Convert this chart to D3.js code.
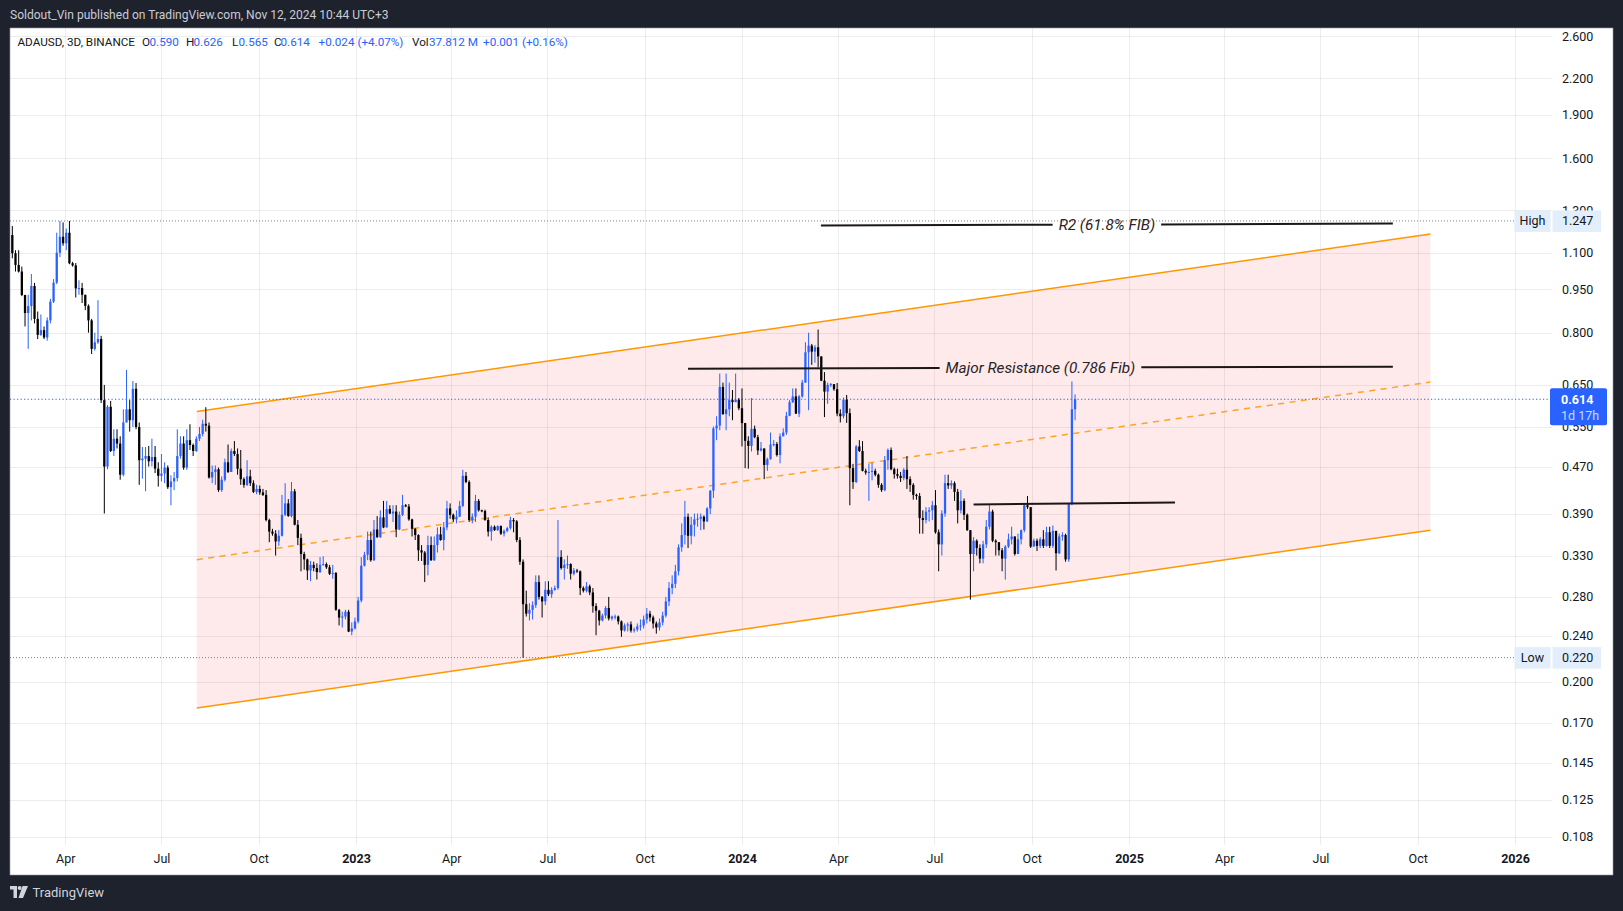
<!DOCTYPE html>
<html><head><meta charset="utf-8">
<script src="https://cdn.jsdelivr.net/npm/d3@7"></script>
<style>
html,body{margin:0;padding:0;background:#1e222d;overflow:hidden}
svg{display:block}
</style></head><body>
<svg id="c" width="1623" height="911"></svg>
<script>
// ---------------- DATA ----------------
const firstCandle = "2022-02-10";   // open time of the first 3D candle
const firstOpen = 1.179;
const closes = [
1.097,1.047,1.02,0.929,0.865,0.889,0.963,0.845,0.793,0.808,0.785,0.84,
0.905,0.976,1.099,1.171,1.141,1.19,1.054,1.045,0.954,0.955,0.93,0.89,
0.84,0.75,0.77,0.78,0.612,0.47,0.596,0.50,0.525,0.515,0.455,0.56,
0.59,0.565,0.64,0.55,0.482,0.485,0.49,0.48,0.488,0.466,0.453,0.457,
0.468,0.433,0.443,0.449,0.49,0.515,0.468,0.522,0.512,0.50,0.525,0.535,
0.557,0.553,0.45,0.46,0.465,0.428,0.446,0.478,0.46,0.50,0.494,0.466,
0.447,0.437,0.452,0.44,0.425,0.43,0.424,0.42,0.38,0.363,0.36,0.349,
0.357,0.388,0.406,0.386,0.426,0.373,0.354,0.332,0.325,0.311,0.318,0.314,
0.309,0.318,0.319,0.315,0.307,0.308,0.266,0.258,0.259,0.264,0.244,0.247,
0.254,0.276,0.317,0.331,0.351,0.324,0.366,0.355,0.384,0.369,0.397,0.39,
0.393,0.366,0.388,0.403,0.401,0.381,0.367,0.358,0.337,0.334,0.318,0.344,
0.324,0.344,0.359,0.351,0.369,0.398,0.388,0.381,0.385,0.402,0.453,0.442,
0.38,0.385,0.41,0.395,0.394,0.38,0.363,0.37,0.365,0.371,0.36,0.364,
0.368,0.38,0.378,0.351,0.322,0.272,0.262,0.266,0.271,0.297,0.28,0.275,
0.288,0.283,0.288,0.29,0.328,0.314,0.318,0.319,0.307,0.311,0.31,0.29,
0.287,0.292,0.285,0.27,0.265,0.255,0.26,0.268,0.257,0.259,0.259,0.254,
0.245,0.25,0.251,0.245,0.246,0.249,0.25,0.256,0.262,0.258,0.252,0.248,
0.253,0.26,0.275,0.29,0.295,0.31,0.341,0.358,0.385,0.357,0.373,0.381,
0.382,0.385,0.378,0.398,0.427,0.547,0.553,0.645,0.579,0.59,0.612,0.607,
0.613,0.5925,0.5586,0.5205,0.51,0.546,0.528,0.501,0.505,0.473,0.484,0.513,
0.514,0.492,0.53,0.538,0.575,0.607,0.621,0.58,0.621,0.656,0.74,0.76,
0.742,0.755,0.728,0.661,0.633,0.65,0.652,0.639,0.58,0.574,0.613,0.581,
0.467,0.442,0.509,0.50,0.462,0.459,0.46,0.462,0.455,0.437,0.428,0.482,
0.502,0.465,0.456,0.453,0.449,0.464,0.447,0.437,0.42,0.418,0.383,0.38,
0.393,0.395,0.403,0.362,0.345,0.39,0.44,0.436,0.44,0.425,0.395,0.41,
0.388,0.365,0.332,0.35,0.34,0.326,0.345,0.37,0.393,0.35,0.348,0.337,
0.326,0.342,0.352,0.356,0.332,0.352,0.365,0.403,0.40,0.342,0.35,0.343,
0.352,0.343,0.362,0.343,0.364,0.333,0.356,0.358,0.325,0.405,0.59,0.614
];
const highs = [
1.222,1.11,1.11,1.04,0.93,0.93,1.01,0.975,0.87,0.86,0.82,0.85,
0.915,0.99,1.19,1.247,1.24,1.21,1.247,1.06,1.055,0.985,0.975,0.915,
0.895,0.845,0.80,0.91,0.79,0.65,0.60,0.61,0.545,0.545,0.53,0.59,
0.69,0.612,0.66,0.655,0.56,0.508,0.508,0.51,0.525,0.51,0.478,0.494,
0.478,0.472,0.454,0.46,0.545,0.53,0.53,0.545,0.556,0.515,0.53,0.55,
0.566,0.595,0.56,0.472,0.472,0.468,0.452,0.485,0.513,0.505,0.52,0.505,
0.502,0.45,0.482,0.464,0.445,0.437,0.436,0.43,0.428,0.382,0.367,0.365,
0.365,0.42,0.44,0.413,0.442,0.43,0.38,0.36,0.335,0.326,0.323,0.322,
0.32,0.328,0.329,0.321,0.318,0.318,0.309,0.267,0.264,0.266,0.266,0.253,
0.258,0.28,0.328,0.335,0.363,0.363,0.38,0.386,0.395,0.41,0.41,0.403,
0.403,0.403,0.393,0.42,0.405,0.405,0.382,0.368,0.359,0.344,0.336,0.357,
0.356,0.356,0.369,0.37,0.377,0.41,0.406,0.39,0.395,0.41,0.464,0.46,
0.445,0.39,0.42,0.413,0.396,0.396,0.384,0.372,0.372,0.372,0.372,0.366,
0.37,0.385,0.383,0.38,0.355,0.325,0.287,0.273,0.275,0.305,0.305,0.281,
0.298,0.298,0.291,0.293,0.38,0.337,0.325,0.33,0.32,0.314,0.313,0.311,
0.292,0.297,0.294,0.29,0.273,0.266,0.262,0.27,0.28,0.26,0.261,0.26,
0.255,0.252,0.253,0.254,0.248,0.252,0.256,0.26,0.268,0.265,0.26,0.254,
0.257,0.264,0.28,0.297,0.305,0.318,0.345,0.375,0.41,0.39,0.385,0.39,
0.39,0.39,0.387,0.40,0.428,0.551,0.574,0.68,0.656,0.68,0.656,0.637,
0.68,0.617,0.641,0.559,0.53,0.617,0.553,0.533,0.518,0.505,0.487,0.538,
0.522,0.518,0.536,0.547,0.584,0.612,0.641,0.641,0.6245,0.663,0.77,0.80,
0.765,0.762,0.81,0.724,0.684,0.656,0.655,0.65,0.655,0.59,0.618,0.6245,
0.592,0.475,0.512,0.522,0.52,0.466,0.475,0.477,0.466,0.457,0.44,0.49,
0.505,0.507,0.468,0.466,0.46,0.467,0.49,0.452,0.44,0.422,0.423,0.395,
0.40,0.40,0.41,0.428,0.366,0.395,0.455,0.455,0.445,0.443,0.43,0.428,
0.414,0.39,0.365,0.355,0.352,0.345,0.35,0.38,0.403,0.396,0.352,0.346,
0.34,0.344,0.36,0.37,0.356,0.36,0.366,0.405,0.418,0.40,0.353,0.353,
0.355,0.365,0.37,0.37,0.372,0.355,0.36,0.362,0.36,0.406,0.659,0.626
];
const lows = [
1.075,1.02,1.016,0.925,0.82,0.75,0.84,0.83,0.78,0.79,0.78,0.775,
0.83,0.90,0.97,1.08,1.13,1.11,1.05,1.04,0.92,0.93,0.90,0.875,
0.80,0.735,0.745,0.765,0.605,0.39,0.465,0.498,0.49,0.505,0.446,0.452,
0.565,0.54,0.55,0.545,0.437,0.448,0.426,0.47,0.47,0.458,0.434,0.443,
0.44,0.43,0.403,0.428,0.443,0.485,0.464,0.464,0.502,0.49,0.498,0.52,
0.53,0.54,0.448,0.44,0.437,0.425,0.425,0.443,0.458,0.46,0.49,0.455,
0.437,0.432,0.435,0.435,0.423,0.421,0.42,0.418,0.378,0.348,0.357,0.33,
0.343,0.356,0.386,0.385,0.384,0.372,0.344,0.31,0.312,0.2995,0.298,0.31,
0.30,0.308,0.317,0.313,0.3055,0.301,0.265,0.25,0.248,0.256,0.2435,0.2405,
0.246,0.252,0.274,0.316,0.324,0.322,0.323,0.354,0.354,0.368,0.37,0.389,
0.377,0.355,0.365,0.386,0.40,0.379,0.356,0.351,0.323,0.323,0.297,0.305,
0.323,0.323,0.334,0.35,0.337,0.365,0.382,0.377,0.375,0.386,0.40,0.44,
0.377,0.375,0.377,0.393,0.392,0.379,0.356,0.35,0.364,0.364,0.358,0.356,
0.362,0.366,0.362,0.348,0.318,0.22,0.259,0.255,0.256,0.268,0.277,0.258,
0.271,0.281,0.279,0.287,0.288,0.312,0.30,0.313,0.30,0.305,0.308,0.282,
0.285,0.285,0.282,0.263,0.2405,0.25,0.254,0.257,0.255,0.255,0.256,0.251,
0.239,0.244,0.244,0.243,0.243,0.244,0.245,0.247,0.252,0.254,0.247,0.242,
0.245,0.25,0.258,0.27,0.283,0.29,0.305,0.335,0.345,0.34,0.345,0.356,
0.37,0.365,0.366,0.377,0.389,0.415,0.522,0.543,0.577,0.543,0.574,0.565,
0.607,0.588,0.509,0.467,0.466,0.499,0.526,0.492,0.499,0.447,0.462,0.483,
0.509,0.489,0.476,0.53,0.533,0.574,0.605,0.579,0.572,0.618,0.656,0.588,
0.704,0.71,0.697,0.66,0.572,0.603,0.645,0.635,0.574,0.56,0.569,0.559,
0.403,0.43,0.44,0.498,0.461,0.455,0.41,0.445,0.452,0.432,0.425,0.426,
0.464,0.463,0.448,0.448,0.442,0.445,0.43,0.425,0.412,0.412,0.36,0.36,
0.375,0.378,0.38,0.36,0.31,0.33,0.385,0.43,0.43,0.41,0.375,0.39,
0.38,0.364,0.277,0.31,0.33,0.32,0.32,0.34,0.366,0.348,0.33,0.33,
0.31,0.30,0.34,0.345,0.33,0.333,0.345,0.362,0.397,0.34,0.343,0.336,
0.34,0.34,0.342,0.34,0.34,0.311,0.332,0.35,0.322,0.322,0.403,0.565
];
const priceTicks = [2.6,2.2,1.9,1.6,1.3,1.1,0.95,0.8,0.65,0.55,0.47,0.39,0.33,0.28,0.24,0.2,0.17,0.145,0.125,0.108];
const viewDates = ["2022-02-07T19:12:00Z","2026-02-05T00:00:00Z"];
const priceDomain = [0.108, 2.6];
const channelDates = ["2022-08-03T10:00:00Z","2025-10-13T00:00:00Z"];
const channelTop = [0.585, 1.184];
const channelBottom = [0.1801, 0.365];
const majorResDates = ["2023-11-11T00:00:00Z","2025-09-07T12:00:00Z"];
const majorResPrices = [0.6935, 0.699];
const majorResText = "Major Resistance (0.786 Fib)";
const r2Dates = ["2024-03-15T16:00:00Z","2025-09-07T12:00:00Z"];
const r2Prices = [1.2246, 1.2338];
const r2Text = "R2 (61.8% FIB)";
const rangeDates = ["2024-08-07T00:00:00Z","2025-02-13T12:00:00Z"];
const rangePrices = [0.4042, 0.4076];
const visibleHigh = 1.247, visibleLow = 0.220, lastPrice = 0.614;
const headerText = "Soldout_Vin published on TradingView.com, Nov 12, 2024 10:44 UTC+3";
const legendTitle = "ADAUSD, 3D, BINANCE";
const legendOHLC = [["O","0.590"],["H","0.626"],["L","0.565"],["C","0.614"]];
const legendChange = "+0.024 (+4.07%)";
const legendVol = "37.812 M";
const legendVolChange = "+0.001 (+0.16%)";
const countdown = "1d 17h";

// ---------------- LAYOUT ----------------
const W = 1623, H = 911;
const panel = {x:10, y:28, w:1603, h:847};
const plot = {x0:10, x1:1552, y0:28, y1:845};
const FONT = "Roboto, 'Liberation Sans', sans-serif";
const UP = "#2962ff", DOWN = "#000000";

const svg = d3.select("#c");
svg.append("rect").attr("width",W).attr("height",H).attr("fill","#1e222d");
svg.append("text").attr("x",10).attr("y",19).attr("fill","#c9ccd4")
  .attr("font-family",FONT).attr("font-size",12.05).text(headerText);
svg.append("rect").attr("x",panel.x).attr("y",panel.y).attr("width",panel.w).attr("height",panel.h)
  .attr("fill","#ffffff").attr("stroke","#9598a1").attr("stroke-width",0.6);

const x = d3.scaleUtc().domain(viewDates.map(d=>new Date(d))).range([plot.x0, plot.x1]);
const y = d3.scaleLog().domain(priceDomain).range([836.7, 36]);

svg.append("defs").append("clipPath").attr("id","clip").append("rect")
  .attr("x",plot.x0).attr("y",plot.y0).attr("width",plot.x1-plot.x0).attr("height",plot.y1-plot.y0);

// grid
const timeTicks = x.ticks(d3.utcMonth.every(3));
const grid = svg.append("g").attr("stroke","rgba(42,46,57,0.085)").attr("stroke-width",1);
grid.selectAll("line.h").data(priceTicks).join("line")
  .attr("x1",plot.x0).attr("x2",plot.x1).attr("y1",d=>Math.round(y(d))+0.5).attr("y2",d=>Math.round(y(d))+0.5);
grid.selectAll("line.v").data(timeTicks).join("line")
  .attr("y1",plot.y0).attr("y2",plot.y1).attr("x1",d=>Math.round(x(d))+0.5).attr("x2",d=>Math.round(x(d))+0.5);

const P = svg.append("g").attr("clip-path","url(#clip)");

// channel
const cd = channelDates.map(d=>new Date(d));
const mid = [Math.sqrt(channelTop[0]*channelBottom[0]), Math.sqrt(channelTop[1]*channelBottom[1])];
P.append("path").attr("fill","rgba(242,54,69,0.11)")
  .attr("d", d3.line()([[x(cd[0]),y(channelTop[0])],[x(cd[1]),y(channelTop[1])],[x(cd[1]),y(channelBottom[1])],[x(cd[0]),y(channelBottom[0])]]) + "Z");
const seg = (dates, prices) => [[x(dates[0]),y(prices[0])],[x(dates[1]),y(prices[1])]];
P.append("path").attr("d", d3.line()(seg(cd,channelTop))).attr("stroke","#ff9800").attr("stroke-width",1.5).attr("fill","none");
P.append("path").attr("d", d3.line()(seg(cd,channelBottom))).attr("stroke","#ff9800").attr("stroke-width",1.5).attr("fill","none");
P.append("path").attr("d", d3.line()(seg(cd,mid))).attr("stroke","#ff9800").attr("stroke-opacity",0.85)
  .attr("stroke-width",1.5).attr("stroke-dasharray","6 5.5").attr("fill","none");

// reference dotted lines
P.append("line").attr("x1",plot.x0).attr("x2",1514).attr("y1",y(visibleHigh)).attr("y2",y(visibleHigh))
  .attr("stroke","#7b7e88").attr("stroke-dasharray","1 2");
P.append("line").attr("x1",plot.x0).attr("x2",1516).attr("y1",y(visibleLow)).attr("y2",y(visibleLow))
  .attr("stroke","#7b7e88").attr("stroke-dasharray","1 2");
P.append("line").attr("x1",plot.x0).attr("x2",plot.x1).attr("y1",y(lastPrice)).attr("y2",y(lastPrice))
  .attr("stroke",UP).attr("stroke-dasharray","1.2 2.3");

// candles
const t0 = new Date(firstCandle+"T00:00:00Z");
const candles = closes.map((c,i)=>{
  const o = i===0 ? firstOpen : closes[i-1];
  return {d:d3.utcDay.offset(t0,3*i), o, c, h:Math.max(highs[i],o,c), l:Math.min(lows[i],o,c)};
});
const step = x(d3.utcDay.offset(t0,3)) - x(t0);
const bw = step*0.72;
const cg = P.append("g");
cg.selectAll("line").data(candles).join("line")
  .attr("x1",d=>x(d.d)).attr("x2",d=>x(d.d)).attr("y1",d=>y(d.h)).attr("y2",d=>y(d.l))
  .attr("stroke",d=>d.c>=d.o?UP:DOWN).attr("stroke-width",1);
cg.selectAll("rect").data(candles).join("rect")
  .attr("x",d=>x(d.d)-bw/2).attr("width",bw)
  .attr("y",d=>y(Math.max(d.o,d.c))).attr("height",d=>Math.max(1,Math.abs(y(d.o)-y(d.c))))
  .attr("fill",d=>d.c>=d.o?UP:DOWN);

// annotation lines with centered labels
function annot(dates, prices, label){
  const ds = dates.map(d=>new Date(d));
  const [p0,p1] = seg(ds, prices);
  const g = P.append("g");
  if(!label){
    g.append("path").attr("d",d3.line()([p0,p1])).attr("stroke","#1b1717").attr("stroke-width",2).attr("fill","none");
    return;
  }
  const mx=(p0[0]+p1[0])/2, my=(p0[1]+p1[1])/2;
  const t = g.append("text").attr("x",mx).attr("y",my).attr("dy","0.35em").attr("text-anchor","middle")
    .attr("font-family",FONT).attr("font-style","italic").attr("font-size",15.3).attr("fill","#2a2325").text(label);
  const w = t.node().getComputedTextLength();
  const gap = 6;
  const slope=(p1[1]-p0[1])/(p1[0]-p0[0]);
  const at = xx=>[xx, p0[1]+slope*(xx-p0[0])];
  g.append("path").attr("d",d3.line()([p0,at(mx-w/2-gap)])).attr("stroke","#1b1717").attr("stroke-width",2).attr("fill","none");
  g.append("path").attr("d",d3.line()([at(mx+w/2+gap),p1])).attr("stroke","#1b1717").attr("stroke-width",2).attr("fill","none");
}
annot(majorResDates, majorResPrices, majorResText);
annot(r2Dates, r2Prices, r2Text);
annot(rangeDates, rangePrices, null);

// price axis
const ya = svg.append("g").attr("transform",`translate(${plot.x1},0)`)
  .call(d3.axisRight(y).tickValues(priceTicks).tickFormat(d3.format(".3f")).tickSize(0).tickPadding(10));
ya.select(".domain").remove();
ya.selectAll("text").attr("font-family",FONT).attr("font-size",12.5).attr("fill","#131722");

// time axis
const fmt = d => d.getUTCMonth()===0 ? d3.utcFormat("%Y")(d) : d3.utcFormat("%b")(d);
const xa = svg.append("g").attr("transform",`translate(0,${plot.y1})`)
  .call(d3.axisBottom(x).tickValues(timeTicks).tickFormat(fmt).tickSize(0).tickPadding(9));
xa.select(".domain").remove();
xa.selectAll("text").attr("font-family",FONT).attr("font-size",12.5).attr("fill","#131722")
  .attr("font-weight",d=>d.getUTCMonth()===0?"bold":"normal");

// price labels (high / low / last)
function sideLabel(price, name){
  const yy = y(price);
  const g = svg.append("g");
  g.append("rect").attr("x",1514.5).attr("y",yy-10.5).attr("width",36).attr("height",21.5).attr("fill","#e3eefc");
  g.append("rect").attr("x",1552.5).attr("y",yy-10.5).attr("width",48.5).attr("height",21.5).attr("fill","#e3eefc");
  g.append("text").attr("x",1532.5).attr("y",yy).attr("dy","0.35em").attr("text-anchor","middle")
    .attr("font-family",FONT).attr("font-size",12.5).attr("fill","#131722").text(name);
  g.append("text").attr("x",1562).attr("y",yy).attr("dy","0.35em")
    .attr("font-family",FONT).attr("font-size",12.5).attr("fill","#131722").text(d3.format(".3f")(price));
}
sideLabel(visibleHigh,"High");
sideLabel(visibleLow,"Low");
{
  const yy = y(lastPrice);
  svg.append("rect").attr("x",1550).attr("y",yy-11).attr("width",57).attr("height",37).attr("rx",2).attr("fill",UP);
  svg.append("text").attr("x",1561).attr("y",yy).attr("dy","0.35em").attr("font-family",FONT)
    .attr("font-size",12.5).attr("font-weight","bold").attr("fill","#ffffff").text(d3.format(".3f")(lastPrice));
  svg.append("text").attr("x",1561).attr("y",yy+16).attr("dy","0.35em").attr("font-family",FONT)
    .attr("font-size",12.5).attr("fill","rgba(255,255,255,0.75)").text(countdown);
}

// legend
const lg = svg.append("text").attr("y",45.5).attr("font-family",FONT).attr("font-size",11.7);
lg.append("tspan").attr("x",17.5).attr("fill","#131722").text(legendTitle);
const ohlcX = [[142,149.5],[186,193.5],[232,238.5],[274,280.5]];
legendOHLC.forEach((p,i)=>{
  lg.append("tspan").attr("x",ohlcX[i][0]).attr("fill","#131722").text(p[0]);
  lg.append("tspan").attr("x",ohlcX[i][1]).attr("fill",UP).text(p[1]);
});
lg.append("tspan").attr("x",318.5).attr("fill",UP).text(legendChange);
lg.append("tspan").attr("x",412).attr("fill","#131722").text("Vol");
lg.append("tspan").attr("x",429).attr("fill",UP).text(legendVol);
lg.append("tspan").attr("x",483).attr("fill",UP).text(legendVolChange);

// TradingView logo
const logo = svg.append("g").attr("transform","translate(10,886)").attr("fill","#d1d4dc");
logo.append("path").attr("d","M0 0H7V12H3.5V3.5H0Z");
logo.append("circle").attr("cx",9.6).attr("cy",2).attr("r",2);
logo.append("path").attr("d","M12.5 0H18L13 12H8.5Z");
svg.append("text").attr("x",32.5).attr("y",897).attr("font-family",FONT).attr("font-size",13)
  .attr("fill","#d1d4dc").text("TradingView");
</script>
</body></html>
